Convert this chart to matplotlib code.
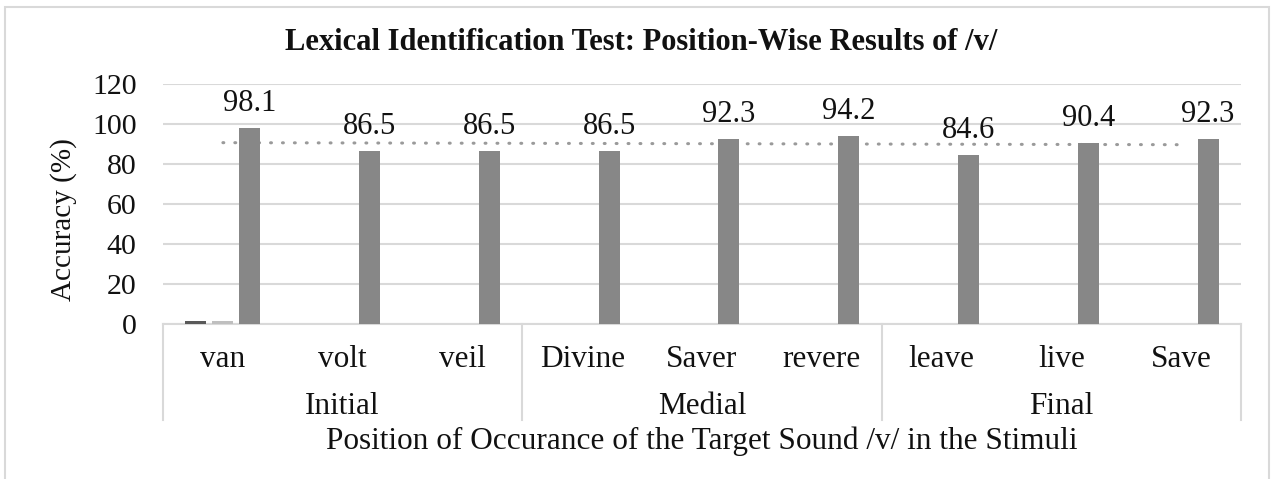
import numpy as np
import matplotlib
matplotlib.use("Agg")
import matplotlib.pyplot as plt
from matplotlib.patches import Rectangle
from matplotlib.lines import Line2D
import matplotlib.transforms as mtransforms

# ---- data ----
words = ["van", "volt", "veil", "Divine", "Saver", "revere", "leave", "live", "Save"]
groups = ["Initial", "Medial", "Final"]
group_sizes = [3, 3, 3]
series1 = [1.5, 0, 0, 0, 0, 0, 0, 0, 0]
series2 = [1.5, 0, 0, 0, 0, 0, 0, 0, 0]
accuracy = [98.1, 86.5, 86.5, 86.5, 92.3, 94.2, 84.6, 90.4, 92.3]
yticks = [0, 20, 40, 60, 80, 100, 120]

title = "Lexical Identification Test: Position-Wise Results of /v/"
ylabel = "Accuracy (%)"
xlabel = "Position of Occurance of the Target Sound /v/ in the Stimuli"

plt.rcParams['font.family'] = ['Liberation Serif', 'DejaVu Serif']
txt = '#111111'
grid_c = '#d9d9d9'

W, H = 1274, 479
fig = plt.figure(figsize=(W / 100, H / 100), dpi=100)
ax = fig.add_axes([163 / W, 1 - 324 / H, (1241 - 163) / W, (324 - 84) / H])

x = np.arange(len(words))
bw = 0.175
off = 0.225
ax.bar(x - off, series1, bw, color='#595959', zorder=3)
ax.bar(x, series2, bw, color='#bfbfbf', zorder=3)
ax.bar(x + off, accuracy, bw, color='#878787', zorder=3)

for xi, v in zip(x + off, accuracy):
    ax.text(xi, v + 5, f"{v:.1f}", ha='center', va='bottom', fontsize=22, color=txt)

# linear trendline of accuracy
coef = np.polyfit(x, accuracy, 1)
ax.plot(x, np.polyval(coef, x), linestyle=(0, (0.3, 3.6)), color='#9a9a9a', lw=2.2,
        dash_capstyle='round', zorder=2)

ax.set_xlim(-0.5, len(words) - 0.5)
ax.set_ylim(0, 120)
ax.set_yticks(yticks)
ax.set_yticklabels([str(t) for t in yticks], fontsize=21.5, color=txt)
ax.tick_params(axis='y', length=0, pad=19)
ax.set_xticks([])
ax.grid(axis='y', color=grid_c, lw=1.5, zorder=0)
for s in ['top', 'right', 'left']:
    ax.spines[s].set_visible(False)
ax.spines['bottom'].set_color(grid_c)
ax.spines['bottom'].set_linewidth(1.5)

trans = mtransforms.blended_transform_factory(ax.transData, ax.transAxes)
for xi, w in zip(x, words):
    ax.text(xi, -0.148, w, ha='center', va='center', fontsize=22.5, color=txt, transform=trans)

start = 0
bounds = [-0.5]
for g, n in zip(groups, group_sizes):
    c = start + (n - 1) / 2
    ax.text(c, -0.345, g, ha='center', va='center', fontsize=22.5, color=txt, transform=trans)
    start += n
    bounds.append(start - 0.5)
for b in bounds:
    ax.add_line(Line2D([b, b], [0, -0.4], transform=trans, color=grid_c, lw=1.5, clip_on=False))

ax.text(0.5, -0.49, xlabel, ha='center', va='center', fontsize=22.5, color=txt, transform=ax.transAxes)
fig.text(64 / W, 1 - 220 / H, ylabel, rotation=90, ha='center', va='center', fontsize=21, color=txt)
fig.text(641 / W, 1 - 42 / H, title, ha='center', va='center', fontsize=22, fontweight='bold', color=txt)

fig.patches.append(Rectangle((5 / W, -0.05), (1269 - 5) / W, 1 - 7 / H + 0.05, transform=fig.transFigure,
                             fill=False, edgecolor=grid_c, lw=1.5))

fig.savefig("out.png", dpi=100, facecolor='white')
